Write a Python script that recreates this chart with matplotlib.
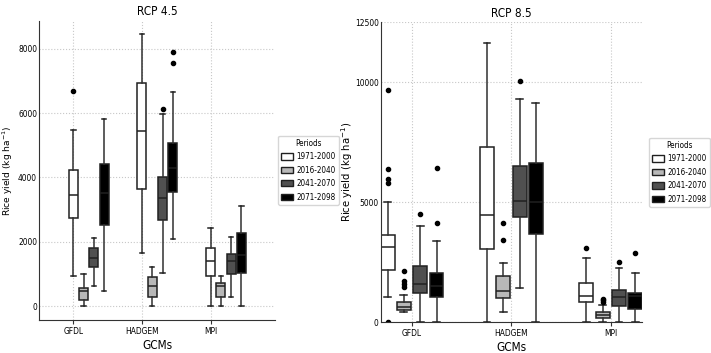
import numpy as np
import matplotlib
matplotlib.use("Agg")
import matplotlib.pyplot as plt
from matplotlib.patches import Patch
from matplotlib import font_manager as fm

# data: quantiles (kg/ha)
gcms = ["GFDL", "HADGEM", "MPI"]
periods = ["1971-2000", "2016-2040", "2041-2070", "2071-2098"]
colors = ["#ffffff", "#b8b8b8", "#505050", "#000000"]

# rcp 4.5 : [whislo, q1, med, q3, whishi] per gcm, per period
rcp45_stats = [
    [[932, 2742, 3447, 4233, 5487], [0, 186, 475, 568, 984],
     [630, 1211, 1481, 1811, 2121], [466, 2516, 3500, 4410, 5798]],
    [[1636, 3624, 5435, 6935, 8470], [0, 280, 621, 891, 1220],
     [1015, 2671, 3354, 3995, 5963], [2090, 3530, 4300, 5052, 6646]],
    [[0, 922, 1398, 1811, 2413], [0, 290, 621, 724, 932],
     [270, 984, 1388, 1615, 2152], [0, 1035, 1600, 2257, 3106]],
]
rcp45_fliers = [
    [[6677], [], [], []],
    [[], [], [6128], [7568, 7888]],
    [[], [], [], []],
]

# rcp 8.5
rcp85_stats = [
    [[1054, 2192, 3137, 3637, 5025], [440, 510, 650, 858, 1125],
     [0, 1221, 1583, 2358, 4012], [0, 1042, 1500, 2067, 3375]],
    [[0, 3042, 4472, 7319, 11639], [417, 1028, 1306, 1944, 2458],
     [1417, 4403, 5069, 6514, 9292], [0, 3667, 5000, 6639, 9125]],
    [[0, 847, 1083, 1625, 2694], [0, 167, 319, 417, 708],
     [0, 681, 1069, 1347, 2250], [0, 542, 1100, 1236, 2069]],
]
rcp85_fliers = [
    [[9680, 6389, 5972, 5806, 0], [2125, 1722, 1597, 1458], [4500], [6431, 4150]],
    [[], [4139, 3431], [10056], []],
    [[3111], [972, 931, 861], [2500], [2875]],
]

plt.rcParams["font.family"] = ["DejaVu Sans"]

# condensed dejavu for the squeezed-looking labels
cond_path = None
for f in fm.fontManager.ttflist:
    if f.fname.endswith("DejaVuSansCondensed.ttf"):
        cond_path = f.fname
if cond_path:
    def cfont(size):
        return fm.FontProperties(fname=cond_path, size=size)
else:
    def cfont(size):
        return fm.FontProperties(family="DejaVu Sans", size=size)


def draw(ax, stats, fliers, offsets, width, tick_size, ylab_size):
    for g in range(len(gcms)):
        for p in range(len(periods)):
            lo, q1, med, q3, hi = stats[g][p]
            st = [dict(whislo=lo, q1=q1, med=med, q3=q3, whishi=hi,
                       fliers=fliers[g][p])]
            ax.bxp(st, positions=[g + offsets[p]], widths=width,
                   patch_artist=True, manage_ticks=False,
                   boxprops=dict(facecolor=colors[p], edgecolor="#202020", linewidth=1.1),
                   medianprops=dict(color="#202020", linewidth=1.1),
                   whiskerprops=dict(color="#303030", linewidth=1.1),
                   capprops=dict(color="#202020", linewidth=1.1),
                   flierprops=dict(marker="o", markerfacecolor="black",
                                   markeredgecolor="black", markersize=3))
    ax.set_xticks(range(len(gcms)))
    ax.set_xticklabels(gcms)
    for lab in ax.get_xticklabels() + ax.get_yticklabels():
        lab.set_fontproperties(cfont(tick_size))
    ax.grid(True, linestyle=":", color="#c8c8c8", linewidth=0.8)
    ax.set_axisbelow(True)
    for s in ["top", "right"]:
        ax.spines[s].set_visible(False)
    ax.spines["left"].set_color("#333333")
    ax.spines["bottom"].set_color("#333333")
    ax.tick_params(axis="y", length=0, pad=1.5)
    ax.tick_params(axis="x", length=3, pad=2, color="#333333")
    ax.set_xlabel("GCMs", fontproperties=cfont(8.5), labelpad=2)
    ax.set_ylabel("Rice yield (kg ha$^{-1}$)", fontsize=ylab_size)


fig = plt.figure(figsize=(7.11, 3.53), dpi=100)
ax1 = fig.add_axes([0.055, 0.0935, 0.332, 0.847])
ax2 = fig.add_axes([0.5354, 0.087, 0.3671, 0.850])

ax1.set_yticks([0, 2000, 4000, 6000, 8000])
draw(ax1, rcp45_stats, rcp45_fliers, [0, 0.15, 0.30, 0.45], 0.13, 6.0, 6.6)
ax1.set_xlim(-0.5, 2.943)
ax1.set_ylim(-435, 8860)
ax1.set_title("RCP 4.5", fontproperties=cfont(8.5), pad=4)
ax1.yaxis.set_label_coords(-0.10, 0.5)

ax2.set_yticks([0, 5000, 10000, 12500])
draw(ax2, rcp85_stats, rcp85_fliers, [-0.246, -0.082, 0.082, 0.246], 0.14, 6, 7.3)
ax2.set_xlim(-0.316, 2.31)
ax2.set_ylim(0, 12500)
ax2.set_title("RCP 8.5", fontproperties=cfont(8.5), pad=4)
ax2.yaxis.set_label_coords(-0.098, 0.5)

handles = [Patch(facecolor=c, edgecolor="#202020", linewidth=1.0) for c in colors]
for anchor in [(0.391, 0.518), (0.913, 0.512)]:
    leg = fig.legend(handles, periods, title="Periods", loc="center left",
                     bbox_to_anchor=anchor, prop=cfont(5.8),
                     title_fontproperties=cfont(5.8),
                     frameon=True, handlelength=1.4, handleheight=0.85,
                     handletextpad=0.45, labelspacing=0.55, borderpad=0.4,
                     borderaxespad=0, fancybox=True)
    leg.get_frame().set_edgecolor("#cccccc")

fig.savefig("out.png", dpi=100)
